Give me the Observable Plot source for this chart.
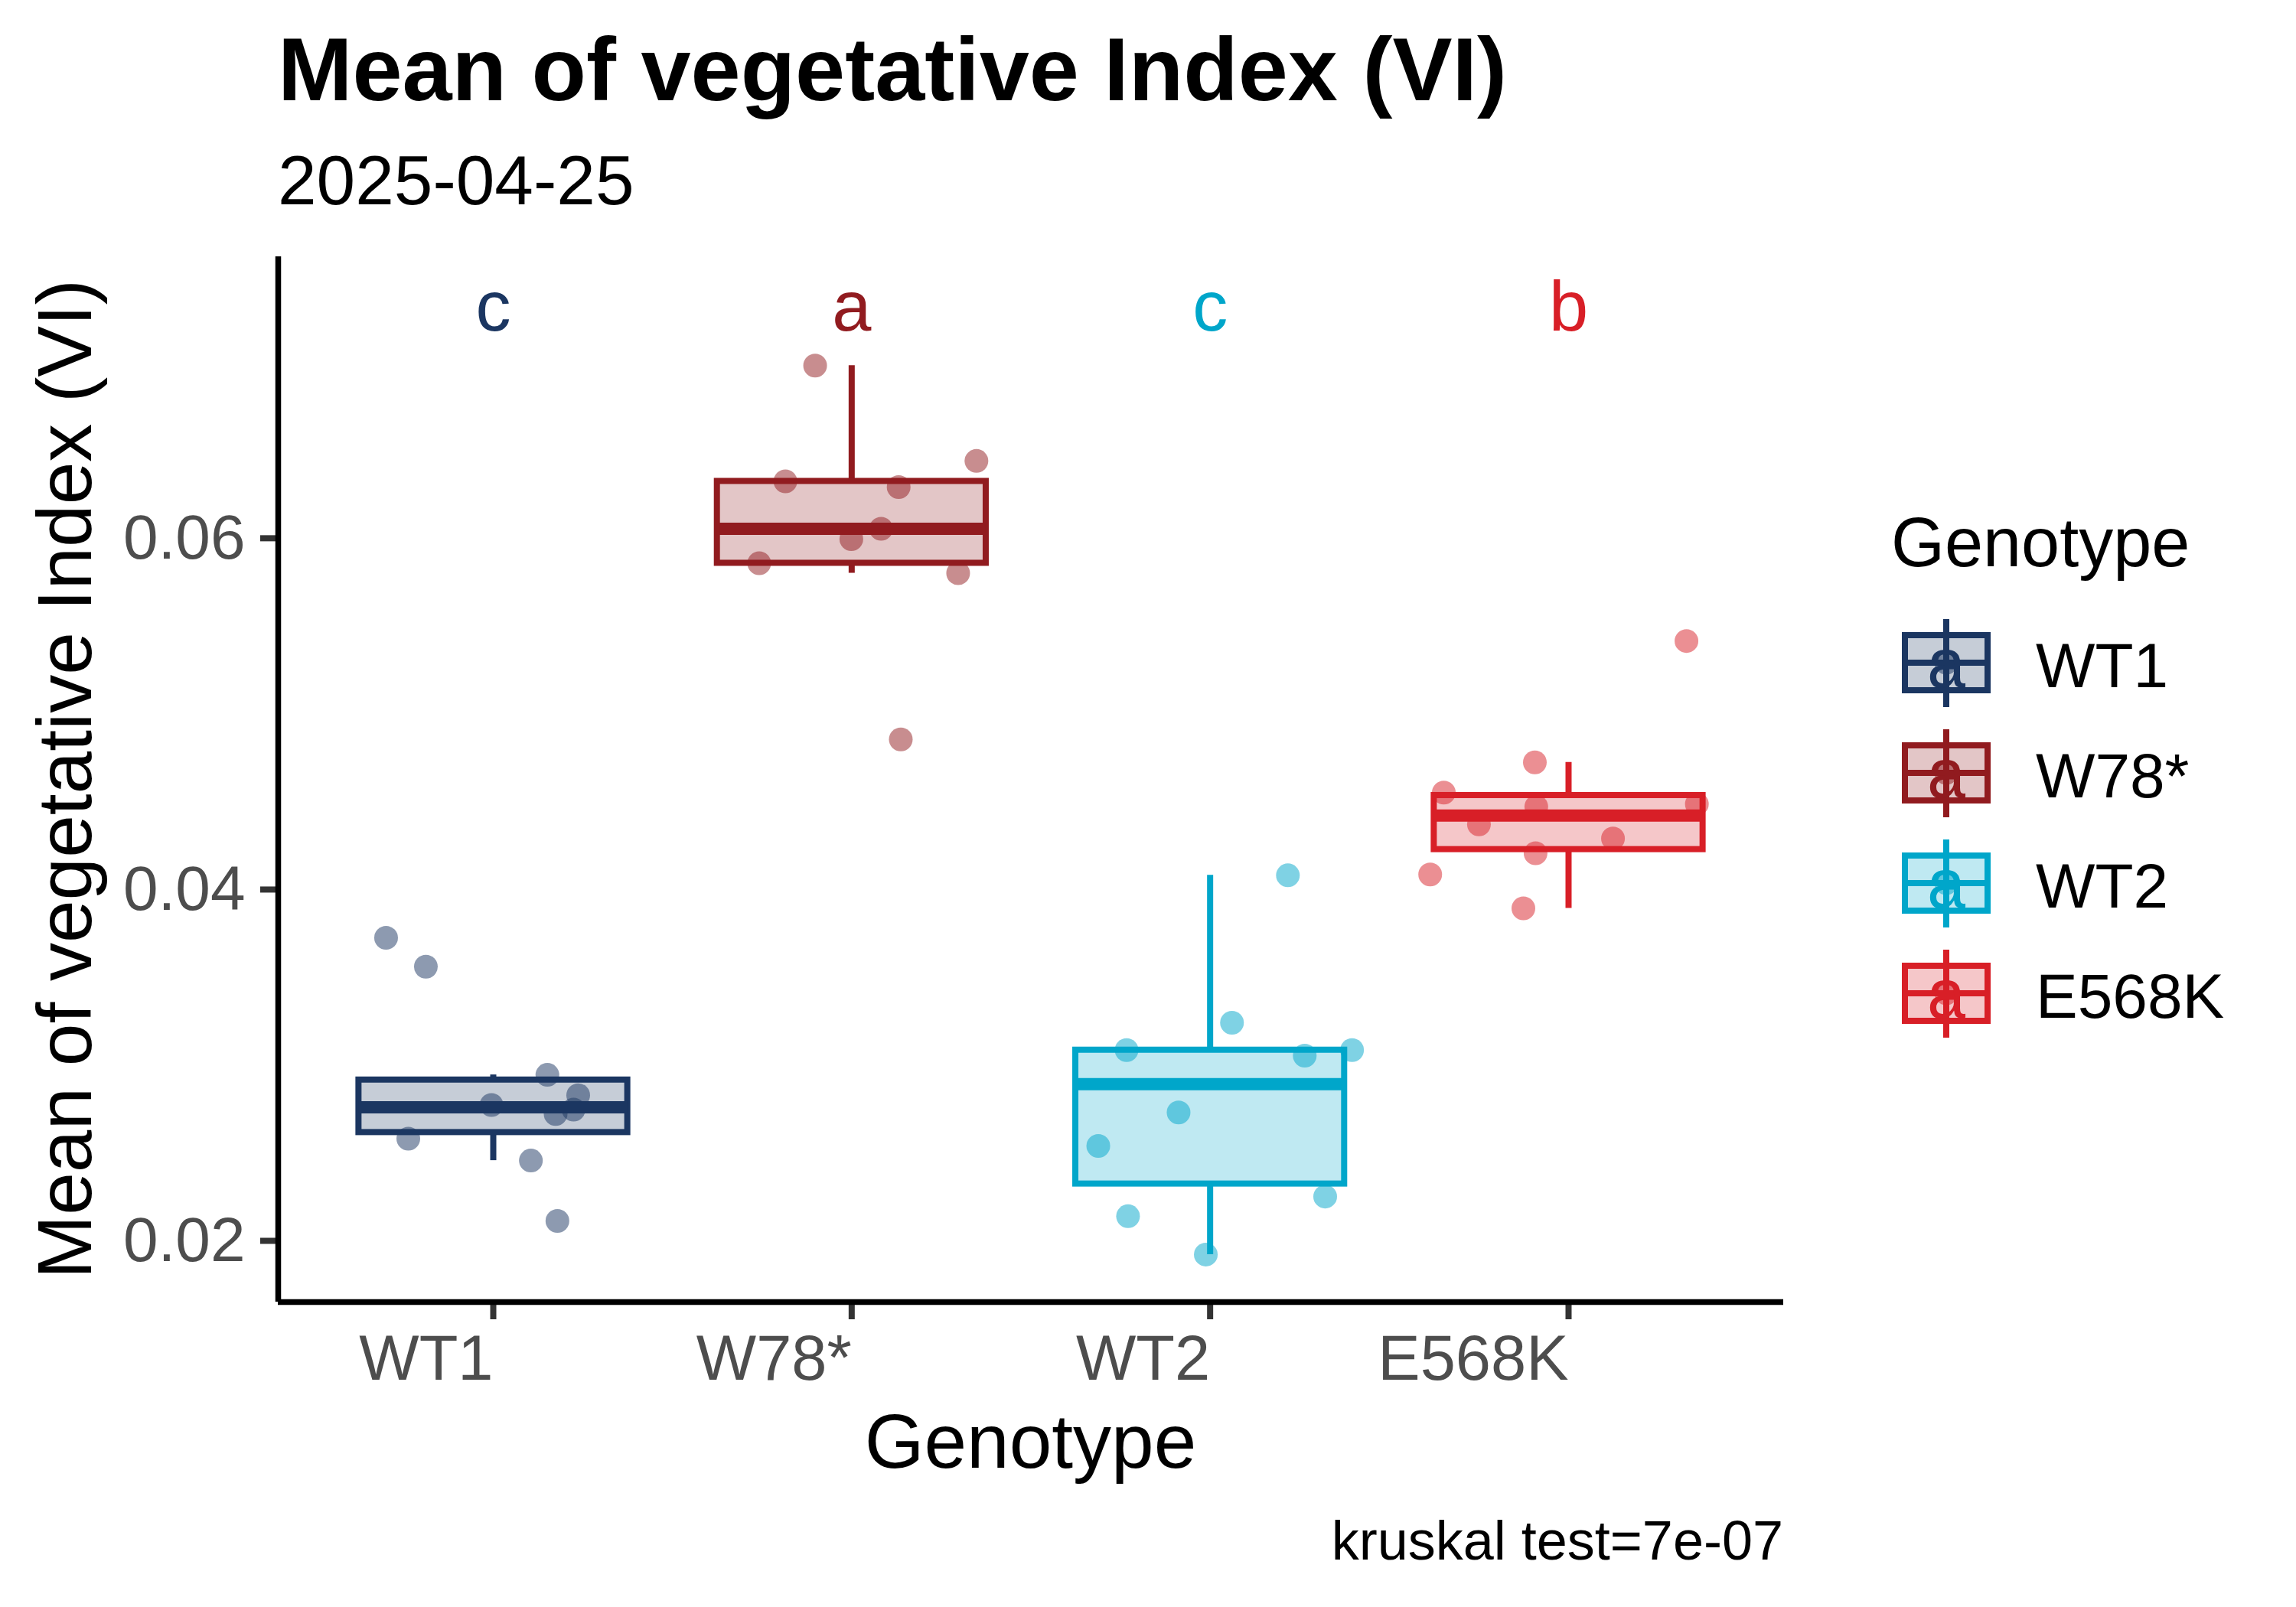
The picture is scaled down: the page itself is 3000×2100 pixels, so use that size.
<!DOCTYPE html>
<html>
<head>
<meta charset="utf-8">
<script src="https://cdn.jsdelivr.net/npm/d3@7"></script>
<script src="https://cdn.jsdelivr.net/npm/@observablehq/plot@0.6"></script>
<style>
  html, body { margin: 0; padding: 0; background: #ffffff; }
  #chart { position: relative; width: 3000px; height: 2100px; }
  #chart svg { display: block; }
</style>
</head>
<body>
<div id="chart"></div>
<script>
// ---------- data ----------
const genotypes = ["WT1", "W78*", "WT2", "E568K"];
const letters = ["c", "a", "c", "b"];
const colors = ["#1B3661", "#911B1F", "#00A6CA", "#D81F27"];

const wt1Values   = [0.03725, 0.03561, 0.02945, 0.02829, 0.02773, 0.02747, 0.02722, 0.02582, 0.02457, 0.02113];
const wt1Jitter   = [-0.299, -0.188, 0.151, 0.237, -0.005, 0.224, 0.174, -0.237, 0.105, 0.179];
const w78Values   = [0.06983, 0.06440, 0.06324, 0.06291, 0.06054, 0.05995, 0.05858, 0.05801, 0.04855];
const w78Jitter   = [-0.102, 0.348, -0.185, 0.131, 0.082, -0.001, -0.258, 0.297, 0.137];
const wt2Values   = [0.04081, 0.03242, 0.03086, 0.03086, 0.03054, 0.02731, 0.02540, 0.02252, 0.02140, 0.01922];
const wt2Jitter   = [0.217, 0.061, -0.233, 0.396, 0.264, -0.088, -0.312, 0.321, -0.229, -0.012];
const e568kValues = [0.05415, 0.04724, 0.04552, 0.04487, 0.04472, 0.04371, 0.04291, 0.04207, 0.04086, 0.03893];
const e568kJitter = [0.329, -0.094, -0.348, 0.358, -0.090, -0.250, 0.124, -0.092, -0.386, -0.126];

const yTicks = [0.02, 0.04, 0.06];
const titleText = "Mean of vegetative Index (VI)";
const subtitleText = "2025-04-25";
const xTitle = "Genotype";
const yTitle = "Mean of vegetative Index (VI)";
const legendTitle = "Genotype";
const legendGlyph = "a";
const kruskalP = "7e-07";

// ---------- derived tables ----------
const groups = [wt1Values, w78Values, wt2Values, e568kValues];
const jitters = [wt1Jitter, w78Jitter, wt2Jitter, e568kJitter];

const points = groups.flatMap((vals, i) =>
  vals.map((v, j) => ({ g: genotypes[i], x: i + 1 + jitters[i][j], y: v })));

const allVals = groups.flat();
const labelY = d3.max(allVals) * 1.05;

const stats = groups.map((vals, i) => {
  const s = d3.sort(vals);
  const q1 = d3.quantile(s, 0.25), med = d3.quantile(s, 0.5), q3 = d3.quantile(s, 0.75);
  const iqr = q3 - q1;
  const lo = d3.min(s.filter(v => v >= q1 - 1.5 * iqr));
  const hi = d3.max(s.filter(v => v <= q3 + 1.5 * iqr));
  return { g: genotypes[i], gi: i + 1, q1, med, q3, lo, hi,
           x1: i + 1 - 0.375, x2: i + 1 + 0.375, letter: letters[i], ly: labelY };
});

const ymin = d3.min(allVals);
const R = labelY - ymin;
const yDomain = [ymin - 0.05 * R, labelY + 0.05 * R];
const xDomain = [1 - 0.6, genotypes.length + 0.6];

// ---------- layout ----------
const W = 3000, H = 2100;
const mL = 363, mR = 670, mT = 335, mB = 399;
const FONT = "'Liberation Sans', Arial, Helvetica, sans-serif";

const plot = Plot.plot({
  width: W, height: H,
  marginLeft: mL, marginRight: mR, marginTop: mT, marginBottom: mB,
  style: { fontFamily: FONT, background: "white", overflow: "visible" },
  x: { domain: xDomain, axis: null },
  y: { domain: yDomain, axis: null },
  color: { domain: genotypes, range: colors },
  marks: [
    Plot.dot(points, { x: "x", y: "y", r: 15.5, fill: "g", fillOpacity: 0.5, stroke: null }),
    Plot.ruleX(stats, { x: "gi", y1: "q3", y2: "hi", stroke: "g", strokeWidth: 8 }),
    Plot.ruleX(stats, { x: "gi", y1: "lo", y2: "q1", stroke: "g", strokeWidth: 8 }),
    Plot.rect(stats, { x1: "x1", x2: "x2", y1: "q1", y2: "q3", fill: "g", fillOpacity: 0.25,
                       stroke: "g", strokeWidth: 8 }),
    Plot.ruleY(stats, { y: "med", x1: "x1", x2: "x2", stroke: "g", strokeWidth: 16 }),
    Plot.text(stats, { x: "gi", y: "ly", text: "letter", fill: "g", fontSize: 92, dy: 5 }),
    Plot.axisY({ ticks: yTicks, tickFormat: d3.format(".2f"), tickSize: 23, tickPadding: 20,
                 fontSize: 82, stroke: "#333333", fill: "#4D4D4D", strokeWidth: 8, label: null }),
    Plot.axisX({ ticks: [1, 2, 3, 4], tickFormat: d => genotypes[d - 1], tickSize: 23, tickPadding: 20,
                 fontSize: 83, textAnchor: "end", stroke: "#333333", fill: "#4D4D4D", strokeWidth: 8, label: null }),
    Plot.ruleX([xDomain[0]], { stroke: "black", strokeWidth: 7.5 }),
    Plot.ruleY([yDomain[0]], { stroke: "black", strokeWidth: 7.5 })
  ]
});

document.getElementById("chart").appendChild(plot);

// ---------- annotations (titles, caption, legend) ----------
const svg = d3.select(plot);
const ann = svg.append("g").attr("font-family", FONT).attr("text-anchor", "start");

ann.append("text").attr("x", 363).attr("y", 131).attr("text-anchor", "start")
  .attr("font-size", 117).attr("font-weight", "bold").attr("fill", "black").text(titleText);
ann.append("text").attr("x", 363).attr("y", 267).attr("text-anchor", "start")
  .attr("font-size", 91).attr("fill", "black").text(subtitleText);
ann.append("text").attr("x", (mL + (W - mR)) / 2).attr("y", 1918)
  .attr("font-size", 100).attr("text-anchor", "middle").attr("fill", "black").text(xTitle);
ann.append("text").attr("transform", `translate(119,${(mT + (H - mB)) / 2}) rotate(-90)`)
  .attr("font-size", 100).attr("text-anchor", "middle").attr("fill", "black").text(yTitle);
ann.append("text").attr("x", W - mR).attr("y", 2038)
  .attr("font-size", 72).attr("text-anchor", "end").attr("fill", "black")
  .text(`kruskal test=${kruskalP}`);

// legend
const leg = ann.append("g");
leg.append("text").attr("x", 2471).attr("y", 740).attr("text-anchor", "start")
  .attr("font-size", 90).attr("fill", "black").text(legendTitle);
genotypes.forEach((g, i) => {
  const c = colors[i];
  const k = leg.append("g").attr("transform", `translate(0,${866 + i * 144})`);
  k.append("circle").attr("cx", 2543).attr("cy", 0).attr("r", 15.5).attr("fill", c).attr("fill-opacity", 0.5);
  k.append("line").attr("x1", 2543).attr("x2", 2543).attr("y1", -57).attr("y2", 58)
    .attr("stroke", c).attr("stroke-width", 8);
  k.append("rect").attr("x", 2489).attr("y", -36).attr("width", 108).attr("height", 72)
    .attr("fill", c).attr("fill-opacity", 0.25).attr("stroke", c).attr("stroke-width", 8);
  k.append("line").attr("x1", 2489).attr("x2", 2597).attr("y1", 0).attr("y2", 0)
    .attr("stroke", c).attr("stroke-width", 8);
  k.append("text").attr("x", 2543).attr("y", 32).attr("font-size", 90).attr("text-anchor", "middle")
    .attr("fill", c).text(legendGlyph);
  k.append("text").attr("x", 2660).attr("y", 32).attr("text-anchor", "start")
    .attr("font-size", 82).attr("fill", "black").text(g);
});
</script>
</body>
</html>
